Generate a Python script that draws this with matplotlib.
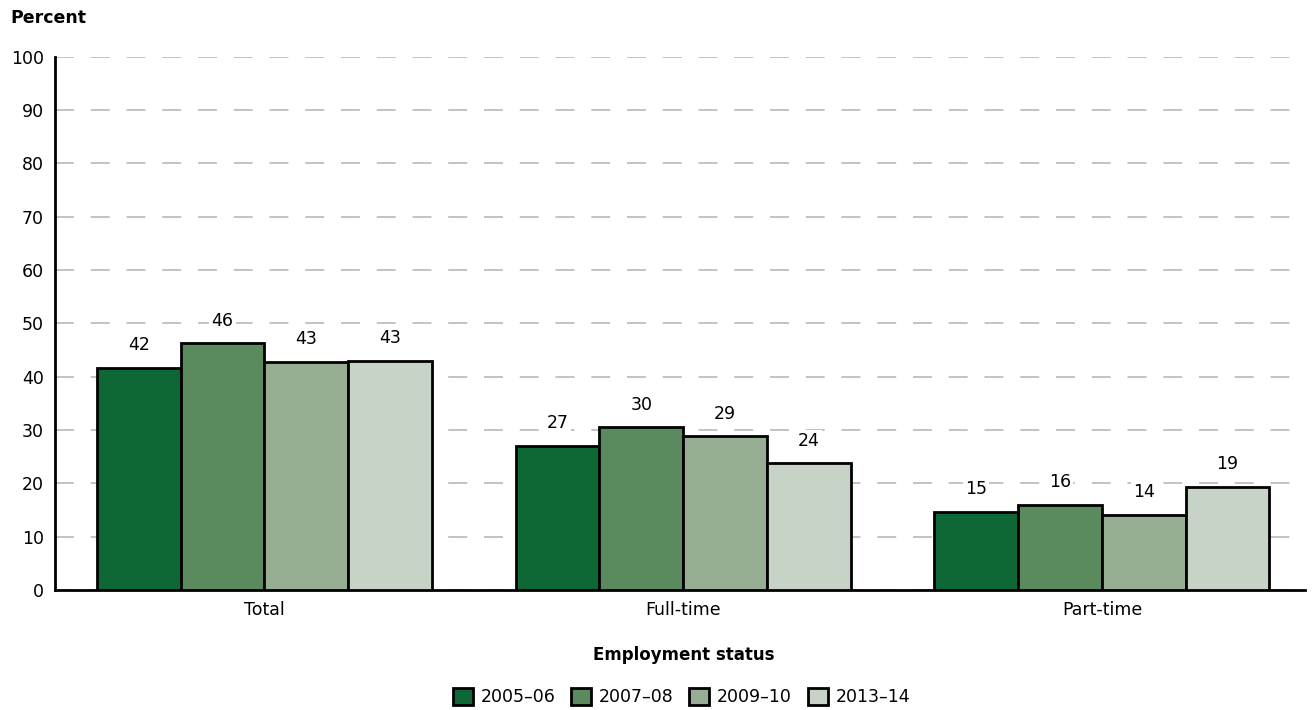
import numpy as np
import matplotlib.pyplot as plt
from matplotlib.patches import Patch

plt.rcParams['font.family'] = ['DejaVu Sans']

categories = ["Total", "Full-time", "Part-time"]
years = ["2005\u201306", "2007\u201308", "2009\u201310", "2013\u201314"]
values = [
    [41.7, 27.1, 14.7],
    [46.3, 30.5, 16.0],
    [42.8, 28.8, 14.1],
    [43.0, 23.8, 19.4],
]
labels = [
    [42, 27, 15],
    [46, 30, 16],
    [43, 29, 14],
    [43, 24, 19],
]
colors = ["#0e6836", "#5b8a5f", "#97ae95", "#c7d3c7"]
fs = 12.5

fig = plt.figure(figsize=(13.13, 7.10), dpi=100)
ax = fig.add_axes([0.0419, 0.169, 0.952, 0.751])

x = np.arange(len(categories))
w = 0.2
for i, (yr, vals) in enumerate(zip(years, values)):
    pos = x + (i - 1.5) * w
    ax.bar(pos, vals, w, color=colors[i], edgecolor="black", linewidth=2, zorder=3)
    for p, v, lab in zip(pos, vals, labels[i]):
        ax.text(p, v + 4.2, str(lab), ha="center", va="center", fontsize=fs, zorder=4,
                bbox=dict(facecolor="white", edgecolor="none", pad=1.5))

ax.set_xlim(-0.5, 2.485)
ax.set_ylim(0, 100)
ax.set_yticks(range(0, 101, 10))
ax.set_xticks(x)
ax.set_xticklabels(categories, fontsize=fs)
ax.tick_params(axis="y", labelsize=fs, length=0, pad=8)
ax.tick_params(axis="x", length=0, pad=8)
ax.grid(axis="y", color="#b3b3b3", linestyle=(0, (12.4, 11)), linewidth=1.1, zorder=0)
for s in ["top", "right"]:
    ax.spines[s].set_visible(False)
ax.spines["left"].set_linewidth(2)
ax.spines["bottom"].set_linewidth(2)

fig.text(0.008, 0.974, "Percent", fontsize=fs, fontweight="bold", ha="left", va="center")
fig.text(0.521, 0.077, "Employment status", fontsize=12, fontweight="bold", ha="center", va="center")

handles = [Patch(facecolor=c, edgecolor="black", linewidth=2) for c in colors]
fig.legend(handles, years, loc="center", bbox_to_anchor=(0.519, 0.018), ncol=4, frameon=False,
           fontsize=fs, handlelength=1.15, handleheight=1.15, handletextpad=0.45, columnspacing=0.9)

fig.savefig("out.png", dpi=100)
